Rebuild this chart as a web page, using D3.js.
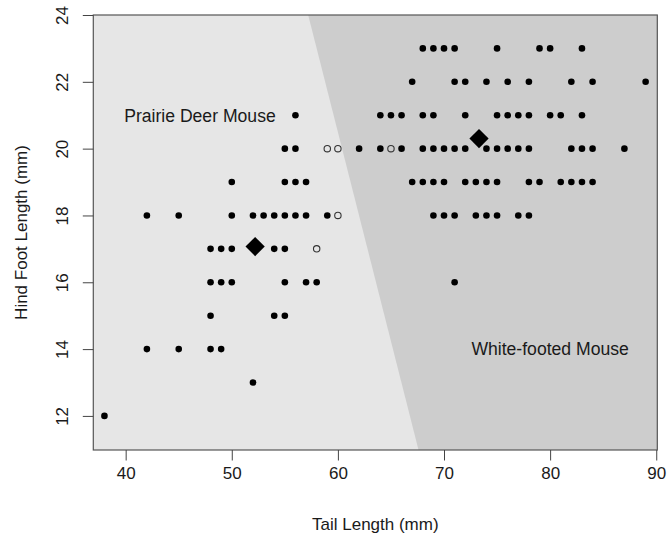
<!DOCTYPE html>
<html>
<head>
<meta charset="utf-8">
<script src="https://cdn.jsdelivr.net/npm/d3@7"></script>
<style>
  body { margin: 0; background: #ffffff; }
  svg text { font-family: "Liberation Sans", Arial, sans-serif; }
</style>
</head>
<body>
<svg id="chart" width="667" height="537"></svg>
<script>
// Hind foot rows and the tail lengths sitting on each row (correctly classified)
const footLevels = [23, 22, 21, 20, 19, 18, 17, 16, 15, 14, 13, 12];
const tailsByRow = [
    [68, 69, 70, 71, 75, 79, 80, 83],
    [67, 71, 72, 74, 76, 78, 82, 84, 89],
    [56, 64, 65, 66, 68, 69, 72, 75, 76, 77, 78, 80, 81, 83],
    [55, 56, 62, 64, 66, 68, 69, 70, 71, 72, 74, 75, 76, 77, 78, 82, 83, 84, 87],
    [50, 55, 56, 57, 67, 68, 69, 70, 72, 73, 74, 75, 78, 79, 81, 82, 83, 84],
    [42, 45, 50, 52, 53, 54, 55, 56, 57, 59, 69, 70, 71, 73, 74, 75, 77, 78],
    [48, 49, 50, 54, 55],
    [48, 49, 50, 55, 57, 58, 71],
    [48, 54, 55],
    [42, 45, 48, 49],
    [52],
    [38]
];

// Misclassified points (open circles)
const missTail = [59, 60, 65, 60, 58];
const missFoot = [20, 20, 20, 18, 17];

// Group means (diamonds)
const centroidTail = [52.2, 73.3];
const centroidFoot = [17.07, 20.3];

// Decision boundary: tail length where the boundary crosses top / bottom of plot
const boundaryTail = [57.2, 67.6];

const xTicks = [40, 50, 60, 70, 80, 90];
const yTicks = [12, 14, 16, 18, 20, 22, 24];

const regionLabels = ["Prairie Deer Mouse", "White-footed Mouse"];
const regionLabelTail = [47, 80];
const regionLabelFoot = [21, 14];

const xTitle = "Tail Length (mm)";
const yTitle = "Hind Foot Length (mm)";

const svg = d3.select("#chart");

const plotLeft = 93.3, plotRight = 657.3, plotTop = 15, plotBottom = 450;
const FONT = 17;

const x = d3.scaleLinear().domain([36.95, 90.1]).range([plotLeft, plotRight]);
const y = d3.scaleLinear().domain([10.98, 24]).range([plotBottom, plotTop]);

const [yLo, yHi] = y.domain();
const [xLo, xHi] = x.domain();

// Regions
svg.append("rect")
    .attr("x", plotLeft).attr("y", plotTop)
    .attr("width", plotRight - plotLeft).attr("height", plotBottom - plotTop)
    .attr("fill", "#e6e6e6");

const darkPoly = [
    [boundaryTail[0], yHi],
    [xHi, yHi],
    [xHi, yLo],
    [boundaryTail[1], yLo]
];
svg.append("path")
    .attr("d", d3.line().x(d => x(d[0])).y(d => y(d[1]))(darkPoly) + "Z")
    .attr("fill", "#cdcdcd");

// Filled points
const points = [];
footLevels.forEach((f, i) => tailsByRow[i].forEach(t => points.push({ t, f })));

svg.append("g")
    .selectAll("circle")
    .data(points)
    .join("circle")
    .attr("cx", d => x(d.t))
    .attr("cy", d => y(d.f))
    .attr("r", 3.3)
    .attr("fill", "#000");

// Open points
svg.append("g")
    .selectAll("circle")
    .data(missTail.map((t, i) => ({ t, f: missFoot[i] })))
    .join("circle")
    .attr("cx", d => x(d.t))
    .attr("cy", d => y(d.f))
    .attr("r", 3.2)
    .attr("fill", "none")
    .attr("stroke", "#333")
    .attr("stroke-width", 1.1);

// Centroids
const diamond = d3.symbol().type(d3.symbolSquare).size(185);
svg.append("g")
    .selectAll("path")
    .data(centroidTail.map((t, i) => ({ t, f: centroidFoot[i] })))
    .join("path")
    .attr("d", diamond)
    .attr("transform", d => `translate(${x(d.t)},${y(d.f)}) rotate(45)`)
    .attr("fill", "#000");

// Region labels
svg.append("g")
    .selectAll("text")
    .data(regionLabels)
    .join("text")
    .attr("x", (d, i) => x(regionLabelTail[i]))
    .attr("y", (d, i) => y(regionLabelFoot[i]))
    .attr("dy", "0.36em")
    .attr("text-anchor", "middle")
    .attr("font-size", 17.6)
    .attr("fill", "#1a1a1a")
    .text(d => d);

// Box
svg.append("rect")
    .attr("x", plotLeft).attr("y", plotTop)
    .attr("width", plotRight - plotLeft).attr("height", plotBottom - plotTop)
    .attr("fill", "none")
    .attr("stroke", "#555")
    .attr("stroke-width", 1.2);

// X axis
const xAxis = svg.append("g")
    .attr("transform", `translate(0,${plotBottom})`)
    .call(d3.axisBottom(x).tickValues(xTicks).tickSize(10.5).tickPadding(6).tickFormat(d3.format("d")));
xAxis.select(".domain").remove();
xAxis.selectAll("line").attr("stroke", "#444");
xAxis.selectAll("text")
    .attr("font-size", FONT)
    .attr("fill", "#1a1a1a")
    .attr("font-family", "Liberation Sans, Arial, sans-serif");

// Y axis with rotated labels
const yAxis = svg.append("g")
    .attr("transform", `translate(${plotLeft},0)`)
    .call(d3.axisLeft(y).tickValues(yTicks).tickSize(10.5).tickFormat(d3.format("d")));
yAxis.select(".domain").remove();
yAxis.selectAll("line").attr("stroke", "#444");
yAxis.selectAll("text")
    .attr("x", null).attr("dy", null)
    .attr("transform", `translate(${67.8 - plotLeft},0) rotate(-90)`)
    .attr("text-anchor", "middle")
    .attr("font-size", FONT)
    .attr("fill", "#1a1a1a")
    .attr("font-family", "Liberation Sans, Arial, sans-serif");

// Axis titles
svg.append("text")
    .attr("x", (plotLeft + plotRight) / 2)
    .attr("y", 530)
    .attr("text-anchor", "middle")
    .attr("font-size", FONT)
    .attr("fill", "#1a1a1a")
    .text(xTitle);

svg.append("text")
    .attr("transform", `translate(26.5,${(plotTop + plotBottom) / 2}) rotate(-90)`)
    .attr("text-anchor", "middle")
    .attr("font-size", FONT)
    .attr("fill", "#1a1a1a")
    .text(yTitle);
</script>
</body>
</html>
